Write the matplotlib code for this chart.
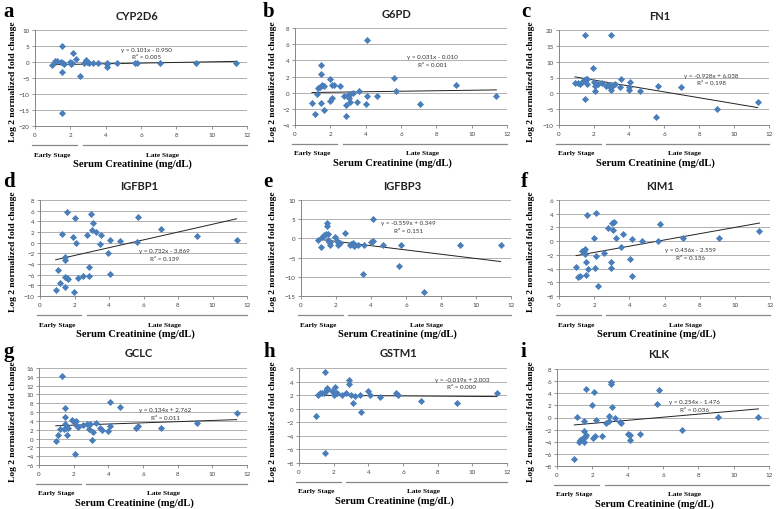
import numpy as np
import matplotlib
matplotlib.use("Agg")
import matplotlib.pyplot as plt

# panel order a..i
letters = ["a", "b", "c", "d", "e", "f", "g", "h", "i"]
genes = ["CYP2D6", "G6PD", "FN1", "IGFBP1", "IGFBP3", "KIM1", "GCLC", "GSTM1", "KLK"]

cyp2d6_x = [0.97, 1.15, 1.25, 1.45, 1.5, 1.5, 1.5, 1.58, 1.65, 1.97, 2.05, 2.1, 2.17, 2.3, 2.55,
            2.8, 2.9, 2.95, 3.05, 3.3, 3.55, 4.05, 4.1, 4.1, 4.65, 5.65, 5.75, 7.05, 9.1, 11.4]
cyp2d6_y = [-0.8, 0.4, 0.4, 0.0, 4.9, -3.2, -15.9, -0.3, -0.6, 0.1, -0.5, -0.2, 2.7, 1.0, -4.4,
            -0.3, 0.5, 0.0, -0.2, -0.3, -0.4, -0.3, -1.7, -0.5, -0.3, -0.4, -0.3, -0.3, -0.3, -0.4]

g6pd_x = [0.96, 1.11, 1.22, 1.32, 1.41, 1.49, 1.49, 1.49, 1.54, 1.62, 1.66, 1.96, 2.0, 2.1, 2.1,
          2.22, 2.52, 2.79, 2.9, 2.9, 2.99, 3.03, 3.09, 3.1, 3.26, 3.52, 3.6, 4.03, 4.09, 4.1,
          4.65, 5.63, 5.74, 7.06, 9.13, 11.4]
g6pd_y = [-1.25, -2.58, -0.2, 0.55, 0.75, 3.4, 2.37, -1.25, 0.9, -2.15, 0.87, 1.66, -1.08, -0.66, 0.9,
          0.95, 0.8, -0.37, -1.58, -2.86, -0.25, -0.6, -1.1, -0.2, -0.04, -1.1, 0.25, -1.37, 6.5, -0.4,
          -0.37, 1.78, 0.2, -1.37, 1.0, -0.37]

fn1_x = [0.91, 1.06, 1.19, 1.29, 1.4, 1.46, 1.46, 1.52, 1.59, 1.59, 1.93, 1.99, 2.05, 2.08, 2.14,
         2.2, 2.48, 2.7, 2.8, 2.86, 2.9, 2.99, 2.99, 3.03, 3.1, 3.18, 3.47, 3.56, 3.98, 4.0,
         4.05, 4.6, 5.55, 5.68, 6.97, 9.05, 11.35]
fn1_y = [3.4, 3.4, 3.1, 3.6, 4.1, 18.4, -1.75, 4.4, 4.4, 3.1, 8.0, 3.6, 0.8, 2.4, 2.9,
         2.9, 3.2, 2.4, 2.6, 2.6, 2.1, 18.4, 1.0, 2.4, 2.6, 2.9, 2.1, 4.4, 1.0, 2.1,
         3.6, 0.8, -7.4, 2.3, 2.1, -4.9, -2.7]

igfbp1_x = [0.91, 1.06, 1.18, 1.28, 1.43, 1.45, 1.45, 1.45, 1.55, 1.59, 1.62, 1.93, 1.97, 2.05, 2.09,
            2.2, 2.48, 2.75, 2.86, 2.86, 2.98, 3.0, 3.08, 3.23, 3.48, 3.56, 3.97, 4.06, 4.08, 4.64,
            5.62, 5.7, 7.02, 9.1, 11.4]
igfbp1_y = [-8.9, -5.1, -7.6, 1.7, -6.4, -2.6, -3.2, -8.4, -6.7, 5.7, -6.8, 1.06, -9.2, 4.6, 0.0,
            -6.6, -6.2, 1.4, -4.6, -6.3, 5.4, 2.3, 3.7, 2.0, -0.3, 1.5, -2.0, 0.56, -5.9, 0.4,
            0.2, 4.9, 2.5, 1.3, 0.56]

igfbp3_x = [0.97, 1.15, 1.22, 1.32, 1.42, 1.5, 1.5, 1.52, 1.55, 1.6, 1.65, 1.65, 1.97, 2.05, 2.1,
            2.1, 2.2, 2.52, 2.78, 2.88, 2.96, 3.03, 3.1, 3.25, 3.55, 3.62, 4.02, 4.1, 4.12, 4.68,
            5.62, 5.73, 7.03, 9.1, 11.4]
igfbp3_y = [-0.35, -2.2, 0.26, 1.0, 1.1, 3.9, 3.3, 1.1, -0.4, -0.9, -1.75, -1.05, 0.44, -0.6, -1.05,
            -1.7, -1.3, 1.3, -1.7, -1.5, -1.3, -1.9, -1.7, -1.7, -9.4, -1.75, -0.9, -0.8, 5.1, -1.7,
            -7.1, -1.7, -13.9, -1.7, -1.7]

kim1_x = [0.97, 1.1, 1.21, 1.29, 1.4, 1.48, 1.48, 1.52, 1.52, 1.61, 1.63, 1.97, 2.03, 2.1, 2.12,
          2.23, 2.54, 2.77, 2.94, 2.94, 3.03, 3.07, 3.1, 3.26, 3.54, 3.64, 4.05, 4.13, 4.13, 4.7,
          5.62, 5.72, 7.03, 9.1, 11.4]
kim1_y = [-3.75, -5.3, -5.1, -1.4, -1.4, -1.2, -1.9, -3.0, -4.9, 3.8, -4.1, 0.44, -3.9, 4.1, -2.1,
          -6.6, -1.7, 1.9, -3.1, -3.9, 2.6, 1.6, 2.8, 0.5, -0.8, 1.1, -2.6, 0.3, -5.15, 0.0,
          0.0, 2.5, 0.53, 0.53, 1.5]

gclc_x = [0.97, 1.1, 1.2, 1.31, 1.43, 1.49, 1.51, 1.51, 1.54, 1.62, 1.66, 1.93, 2.0, 2.08, 2.12,
          2.16, 2.24, 2.55, 2.78, 2.9, 2.97, 3.05, 3.1, 3.28, 3.51, 3.63, 4.0, 4.1, 4.12, 4.65,
          5.62, 5.7, 7.02, 9.12, 11.4]
gclc_y = [-0.5, 0.76, 2.1, 14.2, 2.1, 3.3, 7.0, 4.9, 2.5, 0.76, 2.3, 4.1, 3.7, -3.4, 4.0,
          3.0, 2.7, 3.0, 3.4, 2.2, 3.4, -0.4, 1.4, 3.5, 2.3, 1.9, 1.6, 8.4, 2.8, 7.2,
          2.4, 2.8, 2.4, 3.5, 5.7]

gstm1_x = [0.96, 1.1, 1.2, 1.3, 1.42, 1.48, 1.48, 1.55, 1.6, 1.62, 1.93, 2.0, 2.08, 2.12, 2.2,
           2.5, 2.72, 2.9, 2.9, 3.02, 3.1, 3.24, 3.52, 3.6, 4.0, 4.07, 4.68, 5.62, 5.7, 7.02,
           9.12, 11.4]
gstm1_y = [-1.0, 2.06, 2.25, 2.35, 2.35, 5.4, -6.5, 2.55, 2.85, 3.1, 2.55, 2.06, 3.2, 2.35, 2.35,
           2.06, 2.25, 4.2, 3.7, 2.06, 0.9, 1.9, 2.06, -0.5, 2.55, 2.06, 1.76, 2.35, 2.06, 1.08,
           0.8, 2.25]

klk_x = [0.98, 1.14, 1.23, 1.33, 1.4, 1.46, 1.52, 1.52, 1.52, 1.59, 1.65, 1.65, 1.97, 2.05, 2.12,
         2.16, 2.23, 2.54, 2.78, 2.92, 2.97, 3.05, 3.07, 3.14, 3.26, 3.54, 3.64, 4.02, 4.11, 4.11,
         4.7, 5.65, 5.75, 7.05, 9.1, 11.4]
klk_y = [-6.8, 0.1, -4.0, -3.75, -3.6, -3.4, -2.2, -0.6, -4.1, -3.15, -2.9, 4.7, 2.1, -3.3, 4.2,
         -3.0, -0.44, -3.0, -0.83, 0.17, -0.6, 5.8, 5.5, 1.7, -0.1, -0.66, -0.83, -2.7, -2.9, -3.75,
         -2.7, 2.15, 4.6, -2.0, 0.1, 0.1]

# trendline equations as printed on the charts
slopes = [0.101, 0.031, -0.928, 0.732, -0.559, 0.456, 0.134, -0.019, 0.254]
intercepts = [-0.950, -0.010, 6.038, -3.869, 0.349, -2.559, 2.762, 2.003, -1.476]
eq_labels = ["y = 0.101x - 0.950", "y = 0.031x - 0.010", "y = -0.928x + 6.038",
             "y = 0.732x - 3.869", "y = -0.559x + 0.349", "y = 0.456x - 2.559",
             "y = 0.134x + 2.762", "y = -0.019x + 2.003", "y = 0.254x - 1.476"]
r2_labels = ["R² = 0.005", "R² = 0.001", "R² = 0.198", "R² = 0.139", "R² = 0.151",
             "R² = 0.136", "R² = 0.011", "R² = 0.000", "R² = 0.036"]

y_limits = [(-20, 10), (-4, 8), (-10, 20), (-10, 8), (-15, 10), (-8, 6), (-6, 16), (-8, 6), (-8, 8)]
y_steps = [5, 2, 5, 2, 5, 2, 2, 2, 2]
x_ticks = [0, 2, 4, 6, 8, 10, 12]

xs = [cyp2d6_x, g6pd_x, fn1_x, igfbp1_x, igfbp3_x, kim1_x, gclc_x, gstm1_x, klk_x]
ys = [cyp2d6_y, g6pd_y, fn1_y, igfbp1_y, igfbp3_y, kim1_y, gclc_y, gstm1_y, klk_y]

# layout (pixel boxes: left, right, top, bottom) and equation text spots
W, H = 778, 510
boxes = [(35, 247, 31, 127), (295, 507, 29, 126), (559, 769, 31, 126),
         (40, 247, 201, 297), (301, 511, 201, 297), (559, 770, 201, 297),
         (39, 247, 369, 466), (299, 507, 369, 464), (557, 769, 370, 467)]
eq_pos = [(6.3, 4.0, 1.7), (7.8, 4.5, 3.5), (8.7, 5.7, 3.4),
          (7.2, -1.5, -2.9), (6.15, 4.15, 2.0), (7.5, -1.26, -2.4),
          (7.3, 6.5, 4.7), (9.4, 4.3, 3.2), (7.8, 2.65, 1.4)]

BLUE = "#4A7EBB"
GRID = "#B0B0B0"
serif = "Liberation Serif"

fig = plt.figure(figsize=(W / 100, H / 100), dpi=100)

for k in range(9):
    l, r, t, b = boxes[k]
    ax = fig.add_axes([l / W, 1 - b / H, (r - l) / W, (b - t) / H])
    lo, hi = y_limits[k]
    ax.set_xlim(0, 12)
    ax.set_ylim(lo, hi)
    ax.set_yticks(np.arange(lo, hi + 0.1, y_steps[k]))
    ax.set_xticks(x_ticks)
    ax.grid(axis="y", color=GRID, lw=0.7)
    ax.set_axisbelow(True)
    for s in ["top", "right"]:
        ax.spines[s].set_visible(False)
    for s in ["left", "bottom"]:
        ax.spines[s].set_color("#868686")
        ax.spines[s].set_linewidth(0.7)
    ax.tick_params(length=2, width=0.6, color="#868686", labelsize=4.5, pad=2,
                   labelcolor="#444444")
    for lab in ax.get_xticklabels() + ax.get_yticklabels():
        lab.set_family("Lato")

    ax.scatter(xs[k], ys[k], marker="D", s=13, color=BLUE, zorder=3, linewidths=0)
    xl = np.array([min(xs[k]), max(xs[k])])
    ax.plot(xl, slopes[k] * xl + intercepts[k], color="#222222", lw=0.7, zorder=2)

    ex, ey, ry = eq_pos[k]
    ax.text(ex, ey, eq_labels[k], fontsize=4.5, family="Lato", ha="center", va="center",
            color="#333333")
    ax.text(ex, ry, r2_labels[k], fontsize=4.5, family="Lato", ha="center", va="center",
            color="#333333")

    ax.text(0.48, 1 + 15 / (b - t), genes[k], transform=ax.transAxes, ha="center",
            va="center", fontsize=8, family="Lato", fontweight="bold", color="#222222")

    # stage brackets under the axis
    tr = ax.get_xaxis_transform()
    off = 19 / (b - t)
    ax.plot([-0.17, 2.4], [-off, -off], transform=tr, clip_on=False, color="#888888", lw=0.9)
    ax.plot([2.7, 12], [-off, -off], transform=tr, clip_on=False, color="#888888", lw=0.9)
    ax.text(1.0, -28 / (b - t), "Early Stage", transform=tr, ha="center", va="center",
            fontsize=5.3, family=serif, fontweight="bold")
    ax.text(7.2, -28 / (b - t), "Late Stage", transform=tr, ha="center", va="center",
            fontsize=5.3, family=serif, fontweight="bold")
    ax.text(0.46, -37.5 / (b - t), "Serum Creatinine (mg/dL)", transform=ax.transAxes,
            ha="center", va="center", fontsize=7.6, family=serif, fontweight="bold")

    col, row = k % 3, k // 3
    x0 = [0, 260, 518][col]
    y0 = [0, 170, 340][row]
    fig.text((x0 + 13) / W, 1 - (y0 + 82) / H, "Log 2 normalized fold change", rotation=90,
             ha="center", va="center", fontsize=6.8, family=serif, fontweight="bold")
    fig.text((x0 + 3) / W, 1 - (y0 + 2) / H, letters[k], ha="left", va="top",
             fontsize=15, family=serif, fontweight="bold")

fig.savefig("out.png", dpi=100)
